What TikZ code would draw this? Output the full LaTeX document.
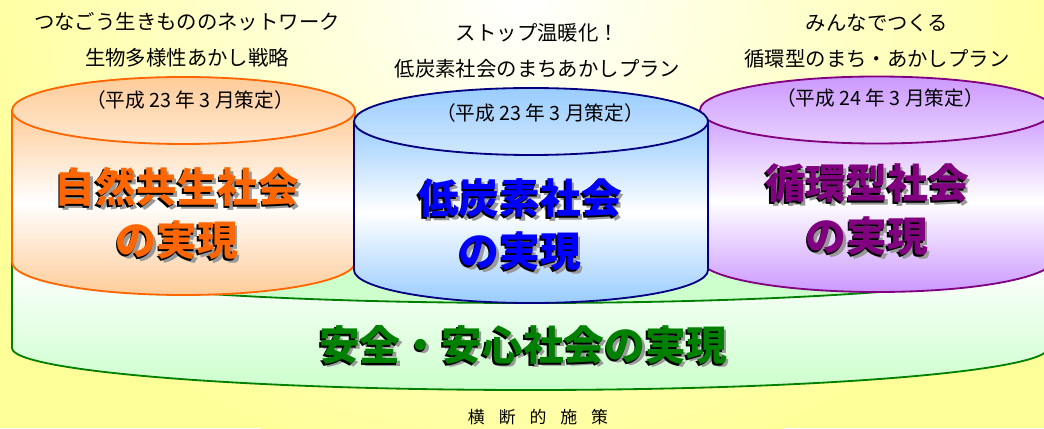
\documentclass[tikz,border=0pt]{standalone}
\usepackage{fontspec}
\setmainfont{Noto Sans CJK JP}

\definecolor{bgyel}{HTML}{FFFF99}
\definecolor{orline}{HTML}{FF6600}
\definecolor{orfill}{HTML}{FFCC99}
\definecolor{blline}{HTML}{000080}
\definecolor{blfill}{HTML}{99CCFF}
\definecolor{puline}{HTML}{800080}
\definecolor{pufill}{HTML}{CC99FF}
\definecolor{grline}{HTML}{008000}
\definecolor{grfill}{HTML}{CCFFCC}

% big label with black and grey shadow: name, position, colour, text
\newcommand{\kagemoji}[4]{%
  \node[bigtxt,text=black!40] at ([shift={(2.5,-3.5)}]#2) {#4};
  \node[bigtxt,text=black] at ([shift={(-1.5,-2)}]#2) {#4};
  \node[bigtxt,text=#3] (#1) at (#2) {#4};
}

\begin{document}
\begin{tikzpicture}[x=0.025cm,y=0.025cm,  % 1 unit = 1 px
    title/.style={align=center,font=\fontsize{14.5}{25.6}\selectfont},
    paren/.style={font=\fontsize{14}{16}\selectfont},
    bigtxt/.style={align=center,font=\fontsize{29}{37.7}\selectfont\bfseries},
    rim/.style={line width=1.3pt}]
    \useasboundingbox (0,0) rectangle (1044,428);
    \clip (0,0) rectangle (1044,428);

    % background
    \fill[bgyel] (0,0) rectangle (1044,428);
    \shade[inner color=white, outer color=bgyel] (522,428) ellipse[x radius=580, y radius=480];

    % base cylinder
    \path[rim, draw=grline, top color=white, bottom color=grfill]
        (12,167) -- (12,80) arc[start angle=180, end angle=360, x radius=518, y radius=42]
        -- (1048,167) -- cycle;
    \path[rim, draw=grline, fill=grfill] (530,167) ellipse[x radius=518, y radius=42];

    % three cylinders: centre x, radius, top y, bottom y, line, fill
    \foreach \cx/\rx/\ty/\by/\lc/\fc in {183.5/171.5/317.5/166/orline/orfill,
                                         877/177/318/169/puline/pufill,
                                         531/177/306.5/158/blline/blfill} {
        \path[rim, draw=\lc, top color=\fc, bottom color=\fc, middle color=white]
            (\cx-\rx,\ty) -- (\cx-\rx,\by) arc[start angle=180, end angle=360, x radius=\rx, y radius=33]
            -- (\cx+\rx,\ty) -- cycle;
        \path[rim, draw=\lc, top color=\fc, bottom color=\fc!45] (\cx,\ty) ellipse[x radius=\rx, y radius=33.5];
    }

    % plan titles
    \node[title] (bioplan) at (187,388) {つなごう生きもののネットワーク\\生物多様性あかし戦略};
    \node[paren] (biodate) at (190,328) {（平成 23 年 3 月策定）};
    \node[title] (co2plan) at (537.5,377.5) {ストップ温暖化！\\低炭素社会のまちあかしプラン};
    \node[paren] (co2date) at (540,315) {（平成 23 年 3 月策定）};
    \node[title] (recplan) at (877,386.5) {みんなでつくる\\循環型のまち・あかしプラン};
    \node[paren] (recdate) at (880,330) {（平成 24 年 3 月策定）};

    % main labels
    \kagemoji{shizen}{177,214.5}{orline}{自然共生社会\\の実現}
    \kagemoji{teitanso}{520,203}{blue}{低炭素社会\\の実現}
    \kagemoji{junkan}{867,218}{puline}{循環型社会\\の実現}
    \kagemoji{anzen}{523,83}{grline}{安全・安心社会の実現}

    \node[font=\fontsize{12}{14}\selectfont] (oudan) at (538,11)
        {横\kern9.9pt断\kern9.9pt的\kern9.9pt施\kern9.9pt策};
\end{tikzpicture}
\end{document}
